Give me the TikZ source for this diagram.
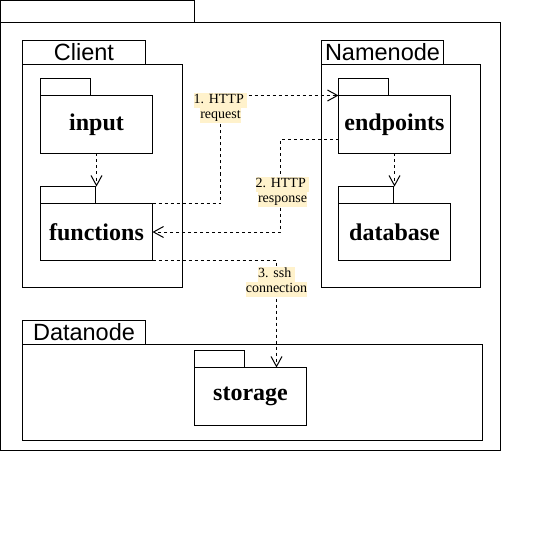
\documentclass[tikz,border=0pt]{standalone}
\usepackage{fontspec}
\setmainfont{Liberation Serif}
\newfontfamily\tabfont{Liberation Sans}
\usetikzlibrary{arrows.meta}
\definecolor{notefill}{HTML}{FFF2CC}
\def\notebox#1{{\setlength\fboxsep{0pt}\colorbox{notefill}{\strut#1}}}

\begin{document}
\begin{tikzpicture}[x=1pt, y=-1pt,
		frame/.style={draw, line width=1pt, inner sep=0pt, outer sep=0pt},
		pkg/.style={frame, minimum width=112, minimum height=58, font=\fontsize{24}{28}\selectfont\bfseries},
		pkgtab/.style={frame, anchor=south west, minimum width=50, minimum height=17},
		grouptab/.style={frame, anchor=south west, minimum width=123, minimum height=24, font=\fontsize{23.5}{28}\selectfont\tabfont},
		dep/.style={line width=1pt, dash pattern=on 3pt off 3pt, -{Straight Barb[length=10pt, width=11pt]}},
		note/.style={inner sep=0pt, align=center, font=\fontsize{14}{15}\selectfont}]
		%%%%% START %%%%%
		\useasboundingbox (-0.5,-0.5) rectangle (550.5,555.5);
		
		% outer frame
		\node[frame, minimum width=500, minimum height=428] (system) at (250,236) {};
		\node[grouptab, minimum width=194, minimum height=22] (systemtab) at (system.north west) {};
		
		% groups
		\node[frame, minimum width=160, minimum height=223] (client) at (102,175.5) {};
		\node[grouptab] (clienttab) at (client.north west) {Client};
		\node[frame, minimum width=159, minimum height=223] (namenode) at (400.5,175.5) {};
		\node[grouptab, minimum width=122] (namenodetab) at (namenode.north west) {Namenode};
		\node[frame, minimum width=460, minimum height=96] (datanode) at (252,392) {};
		\node[grouptab] (datanodetab) at (datanode.north west) {Datanode};
		
		% packages
		\node[pkg] (input) at (96,124) {input};
		\node[pkgtab] (inputtab) at (input.north west) {};
		\node[pkg, minimum height=57] (functions) at (96,231.5) {functions};
		\node[pkgtab, minimum width=55] (functionstab) at (functions.north west) {};
		\node[pkg] (endpoints) at (394,124) {endpoints};
		\node[pkgtab] (endpointstab) at (endpoints.north west) {};
		\node[pkg, minimum height=57] (database) at (394,231.5) {database};
		\node[pkgtab, minimum width=55] (databasetab) at (database.north west) {};
		\node[pkg] (storage) at (250,396) {storage};
		\node[pkgtab] (storagetab) at (storage.north west) {};
		
		% label anchors
		\coordinate (req) at (220,107);
		\coordinate (resp) at (280,191);
		\coordinate (ssh) at (276,281);
		
		% dependencies
		\draw[dep] (input.south) -- (input.south |- functionstab.north);
		\draw[dep] (endpoints.south) -- (endpoints.south |- databasetab.north);
		\draw[dep] (functions.north east) -| (req) |- (endpoints.north west);
		\draw[dep] ([yshift=-15pt]endpoints.west) -| (resp) |- (functions.east);
		\draw[dep] (functions.south east) -| (ssh) -- (ssh |- storage.north);
		
		% notes
		\node[note] (reqnote) at ([yshift=-1pt]req) {\notebox{1. HTTP }\\\notebox{request}};
		\node[note] (respnote) at ([xshift=2pt]resp) {\notebox{2. HTTP }\\\notebox{response}};
		\node[note] (sshnote) at (ssh) {\notebox{3. ssh }\\\notebox{connection}};
		%%%%% END %%%%%
	\end{tikzpicture}
\end{document}
